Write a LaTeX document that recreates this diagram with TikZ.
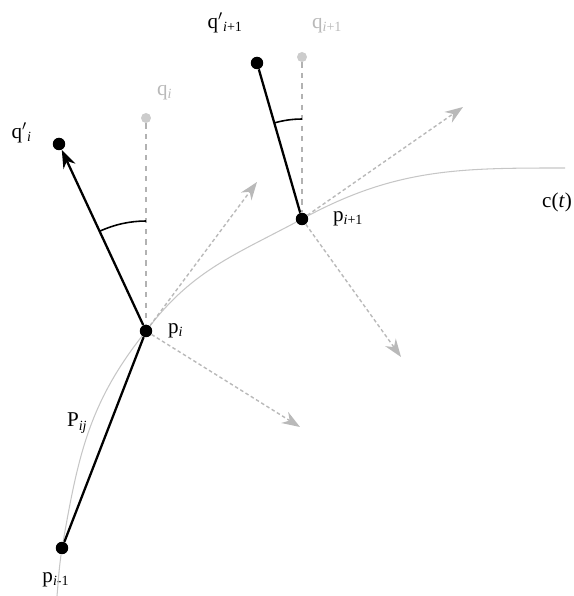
\documentclass[tikz,border=0pt]{standalone}
\usepackage{fontspec}
\setmainfont{Liberation Serif}
\usepackage{tikz}
\usetikzlibrary{arrows.meta,positioning}
\newcommand{\lsub}[1]{\textsubscript{#1}}
\tikzset{
  dot/.style={circle, fill=black, inner sep=0pt, minimum size=2.5mm},
  ghostdot/.style={circle, fill=gray!40, inner sep=0pt, minimum size=2mm},
  lbl/.style={inner sep=1pt, font=\large},
  ghostlbl/.style={lbl, text=gray!55},
  seg/.style={line width=1.3pt},
  vecarrow/.style={seg, -{Stealth[length=3.6mm, width=2.6mm]}},
  guide/.style={dashed, draw=gray!60, line width=0.6pt},
  frame/.style={draw=gray!55, line width=0.8pt, dash pattern=on 2pt off 1.5pt, -{Stealth[length=3.6mm, width=2.6mm]}},
  curve/.style={draw=gray!45, line width=0.6pt},
  anglearc/.style={line width=0.9pt}
}
\begin{document}
\begin{tikzpicture}[x=0.02cm, y=0.02cm]
  \useasboundingbox (0,0) rectangle (574,596);

  % sample points and their normals
  \node[dot] (pim) at (62,48) {};
  \node[dot] (pi) at (146,265) {};
  \node[dot] (pip) at (302,377) {};
  \node[dot] (qpi) at (59,452) {};
  \node[dot] (qpip) at (257,533) {};
  \node[ghostdot] (qi) at (146,478) {};
  \node[ghostdot] (qip) at (302,539) {};
  \coordinate (c0) at (57,0);
  \coordinate (c1) at (565,428);
  \coordinate (ti) at (257,414);
  \coordinate (ni) at (300,169);
  \coordinate (tip) at (463,489);
  \coordinate (nip) at (401,239);

  \node[lbl, right=4mm of pi.center] (lpi) {p\lsub{\textit{i}}};
  \node[lbl, right=5.8mm of pip.center] (lpip) {p\lsub{\textit{i}+1}};
  \node[lbl, below=4.4mm of pim.center, xshift=-1.2mm] (lpim) {p\lsub{\textit{i}-1}};
  \node[lbl, left=5mm of qpi.center, yshift=2.2mm] (lqpi) {q$'$\lsub{\textit{i}}};
  \node[lbl, above left=5.6mm and 2.4mm of qpip.center] (lqpip) {q$'$\lsub{\textit{i}+1}};
  \node[ghostlbl, above right=3.2mm and 1.8mm of qi.center] (lqi) {q\lsub{\textit{i}}};
  \node[ghostlbl, above right=4.4mm and 1.6mm of qip.center] (lqip) {q\lsub{\textit{i}+1}};
  \node[lbl, below=4.6mm of c1, xshift=-1.6mm] (lc) {c(\textit{t})};

  % curve c(t)
  \draw[curve] (c0) to[out=85,in=262] (pim) to[out=80,in=232] (pi)
    to[out=52,in=208] (pip) to[out=28,in=180] (c1);

  % tangent and normal frames
  \draw[frame] (pi) -- (ti);
  \draw[frame] (pi) -- (ni);
  \draw[frame] (pip) -- (tip);
  \draw[frame] (pip) -- (nip);
  \draw[guide] (qi) -- (pi);
  \draw[guide] (qip) -- (pip);

  \draw[seg] (pim) -- node[lbl, pos=0.58, left=4mm] (lpij) {P\lsub{\textit{ij}}} (pi);
  \draw[vecarrow] (pi) -- (qpi);
  \draw[seg] (pip) -- (qpip);

  % angles
  \draw[anglearc] ([shift={(90:2.2cm)}]pi.center) arc[start angle=90, end angle=114.9, radius=2.2cm];
  \draw[anglearc] ([shift={(90:2cm)}]pip.center) arc[start angle=90, end angle=106.1, radius=2cm];
\end{tikzpicture}
\end{document}
